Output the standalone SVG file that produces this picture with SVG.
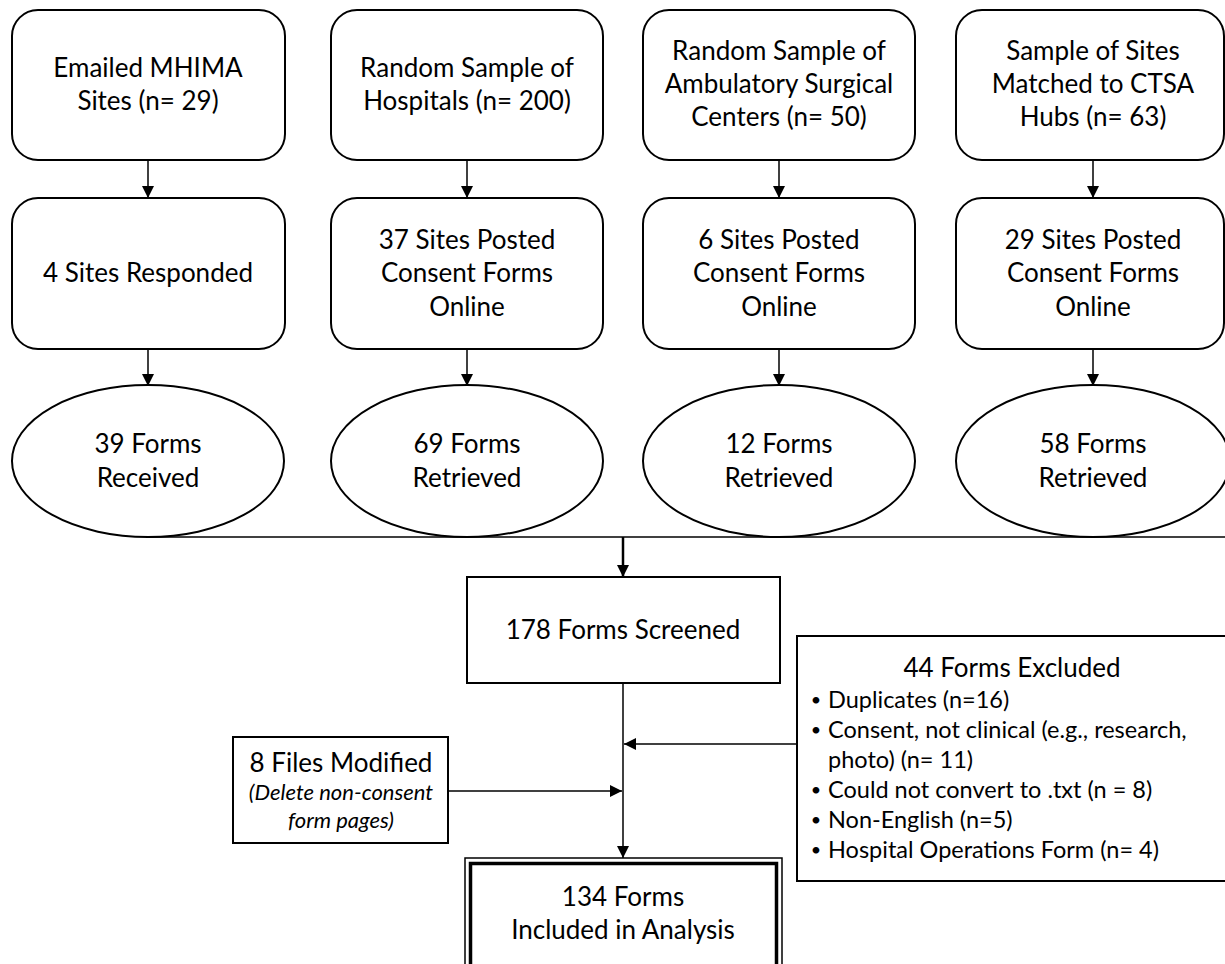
<svg xmlns="http://www.w3.org/2000/svg" width="1225" height="964" viewBox="0 0 1225 964">
<defs>
<style>
.box{fill:#fff;stroke:#000;stroke-width:2}
.t{font-family:Lato,"Liberation Sans",sans-serif;font-size:26px;fill:#000;text-anchor:middle}
.s{font-family:Lato,"Liberation Sans",sans-serif;font-size:23.5px;fill:#000}
.b{font-family:Lato,"Liberation Sans",sans-serif;font-size:18px;fill:#000;text-anchor:middle}
.i{font-family:Lato,"Liberation Sans",sans-serif;font-size:22px;font-style:italic;fill:#000;text-anchor:middle}
.c{fill:none;stroke:#000;stroke-width:1.5}
</style>
<marker id="ah" viewBox="0 0 10 10" refX="10" refY="5" markerWidth="12" markerHeight="12" markerUnits="userSpaceOnUse" orient="auto"><path d="M0,0 L10,5 L0,10 z" fill="#000"/></marker>
</defs>
<rect width="1225" height="964" fill="#fff"/>
<g id="connectors">
<line class="c" x1="148" y1="160" x2="148" y2="198" marker-end="url(#ah)"/>
<line class="c" x1="467" y1="160" x2="467" y2="198" marker-end="url(#ah)"/>
<line class="c" x1="779" y1="160" x2="779" y2="198" marker-end="url(#ah)"/>
<line class="c" x1="1093" y1="160" x2="1093" y2="198" marker-end="url(#ah)"/>
<line class="c" x1="148" y1="349" x2="148" y2="386" marker-end="url(#ah)"/>
<line class="c" x1="467" y1="349" x2="467" y2="386" marker-end="url(#ah)"/>
<line class="c" x1="779" y1="349" x2="779" y2="386" marker-end="url(#ah)"/>
<line class="c" x1="1093" y1="349" x2="1093" y2="386" marker-end="url(#ah)"/>
<line class="c" x1="148" y1="537" x2="1225" y2="537"/>
<line class="c" x1="623" y1="537" x2="623" y2="577" style="stroke-width:2.5" marker-end="url(#ah)"/>
<line class="c" x1="623" y1="683" x2="623" y2="858" marker-end="url(#ah)"/>
<line class="c" x1="797" y1="744" x2="624" y2="744" marker-end="url(#ah)"/>
<line class="c" x1="448" y1="791" x2="622" y2="791" marker-end="url(#ah)"/>
</g>
<g id="n1"><rect class="box" x="12" y="10" width="273" height="150" rx="26"/><text class="t" x="148" y="77">Emailed MHIMA</text><text class="t" x="148" y="110">Sites (n= 29)</text></g>
<g id="n2"><rect class="box" x="331" y="10" width="272" height="150" rx="26"/><text class="t" x="467" y="77">Random Sample of</text><text class="t" x="467" y="110">Hospitals (n= 200)</text></g>
<g id="n3"><rect class="box" x="643" y="10" width="272" height="150" rx="26"/><text class="t" x="779" y="60">Random Sample of</text><text class="t" x="779" y="93">Ambulatory Surgical</text><text class="t" x="779" y="126">Centers (n= 50)</text></g>
<g id="n4"><rect class="box" x="956" y="10" width="268" height="150" rx="26"/><text class="t" x="1093" y="60">Sample of Sites</text><text class="t" x="1093" y="93">Matched to CTSA</text><text class="t" x="1093" y="126">Hubs (n= 63)</text></g>
<g id="n5"><rect class="box" x="12" y="198" width="273" height="151" rx="26"/><text class="t" x="148" y="282">4 Sites Responded</text></g>
<g id="n6"><rect class="box" x="331" y="198" width="272" height="151" rx="26"/><text class="t" x="467" y="249">37 Sites Posted</text><text class="t" x="467" y="282">Consent Forms</text><text class="t" x="467" y="316">Online</text></g>
<g id="n7"><rect class="box" x="643" y="198" width="272" height="151" rx="26"/><text class="t" x="779" y="249">6 Sites Posted</text><text class="t" x="779" y="282">Consent Forms</text><text class="t" x="779" y="316">Online</text></g>
<g id="n8"><rect class="box" x="956" y="198" width="268" height="151" rx="26"/><text class="t" x="1093" y="249">29 Sites Posted</text><text class="t" x="1093" y="282">Consent Forms</text><text class="t" x="1093" y="316">Online</text></g>
<g id="n9"><ellipse class="box" cx="148" cy="461" rx="136" ry="76"/><text class="t" x="148" y="453">39 Forms</text><text class="t" x="148" y="487">Received</text></g>
<g id="n10"><ellipse class="box" cx="467" cy="461" rx="136" ry="76"/><text class="t" x="467" y="453">69 Forms</text><text class="t" x="467" y="487">Retrieved</text></g>
<g id="n11"><ellipse class="box" cx="779" cy="461" rx="136" ry="76"/><text class="t" x="779" y="453">12 Forms</text><text class="t" x="779" y="487">Retrieved</text></g>
<g id="n12"><ellipse class="box" cx="1093" cy="461" rx="137" ry="76"/><text class="t" x="1093" y="453">58 Forms</text><text class="t" x="1093" y="487">Retrieved</text></g>
<g id="n13"><rect class="box" x="467" y="577" width="313" height="106"/><text class="t" x="623" y="639">178 Forms Screened</text></g>
<g id="n14"><rect class="box" x="797" y="636" width="430" height="245"/><text class="t" x="1012" y="677">44 Forms Excluded</text>
<text class="b" x="816" y="706">•</text><text class="s" x="828" y="708">Duplicates (n=16)</text>
<text class="b" x="816" y="736">•</text><text class="s" x="828" y="738">Consent, not clinical (e.g., research,</text>
<text class="s" x="828" y="768">photo) (n= 11)</text>
<text class="b" x="816" y="796">•</text><text class="s" x="828" y="798">Could not convert to .txt (n = 8)</text>
<text class="b" x="816" y="826">•</text><text class="s" x="828" y="828">Non-English (n=5)</text>
<text class="b" x="816" y="856">•</text><text class="s" x="828" y="858">Hospital Operations Form (n= 4)</text></g>
<g id="n15"><rect class="box" x="233" y="737" width="215" height="106"/><text class="t" x="341" y="772">8 Files Modified</text><text class="i" x="341" y="800">(Delete non-consent</text><text class="i" x="341" y="828">form pages)</text></g>
<g id="n16"><rect x="465" y="858" width="317" height="120" fill="#fff" stroke="#000" stroke-width="1.5"/><rect x="470.5" y="863.5" width="306" height="120" fill="none" stroke="#000" stroke-width="3.5"/><text class="t" x="623" y="906">134 Forms</text><text class="t" x="623" y="939">Included in Analysis</text></g>
</svg>
